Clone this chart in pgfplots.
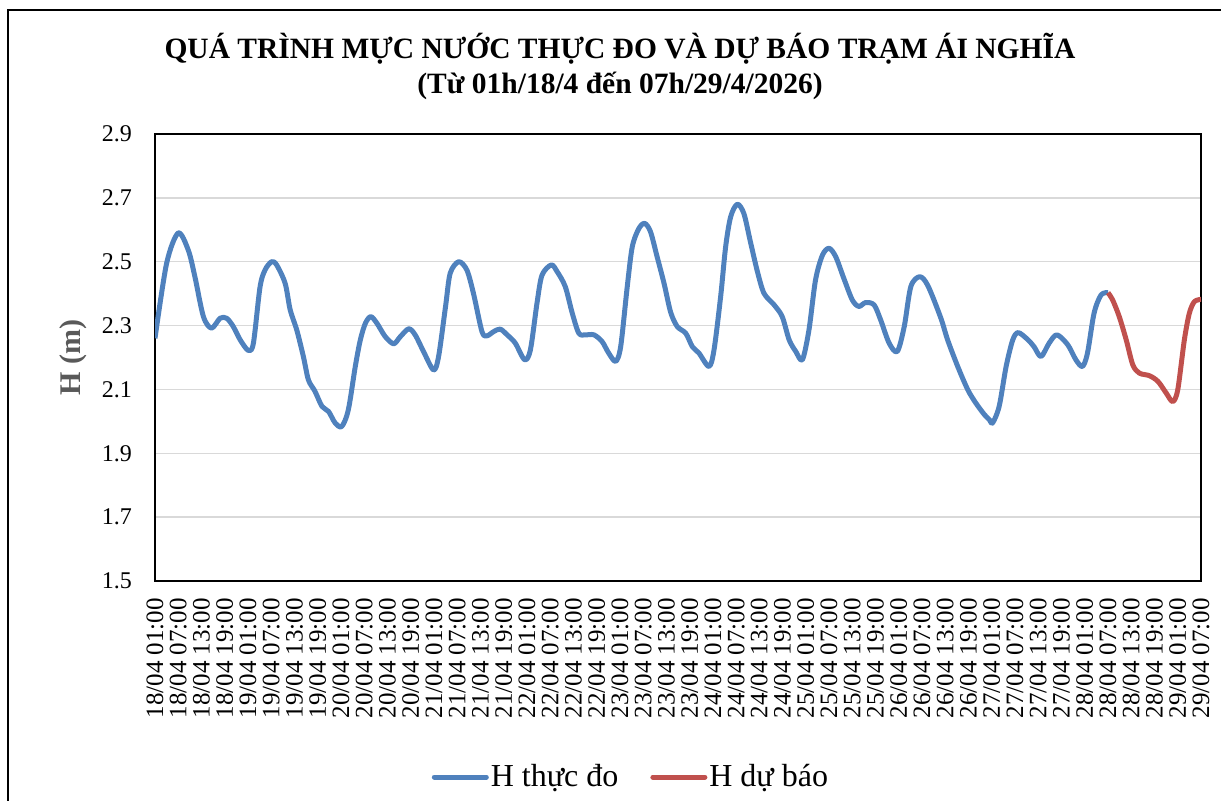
\documentclass[border=0pt]{standalone}
\usepackage{fontspec}
\setmainfont{Liberation Serif}
\usepackage{pgfplots}
\usepackage{pgfplotstable}
\pgfplotsset{compat=1.18}
\definecolor{hblue}{HTML}{4F81BD}
\definecolor{hred}{HTML}{C0504D}
\definecolor{gridc}{HTML}{D9D9D9}
\definecolor{labc}{HTML}{595959}

\pgfplotstableread{
h v
0 2.26
3 2.495
6 2.59
8.6 2.536
10.3 2.453
12.5 2.328
14.6 2.292
16.8 2.323
18.5 2.323
20.2 2.297
22 2.255
24.1 2.222
25.4 2.245
27.1 2.42
28.4 2.474
30.1 2.50
31.4 2.49
33.6 2.432
34.9 2.349
36.6 2.286
38.3 2.203
39.6 2.13
41.3 2.094
43.1 2.047
44.8 2.031
46.5 1.995
48.2 1.984
49.9 2.036
51.7 2.172
53 2.255
54.3 2.307
55.7 2.328
57.3 2.307
59.4 2.266
61.6 2.243
63.3 2.265
65.5 2.29
67.2 2.27
69.3 2.219
71.9 2.161
73.2 2.203
75 2.36
76.2 2.464
78.4 2.50
80.5 2.474
82.2 2.401
84.4 2.281
85.7 2.268
87.4 2.281
89.1 2.289
90.9 2.271
93 2.245
95.4 2.193
96.9 2.224
98.6 2.37
99.9 2.458
102.3 2.49
103.8 2.469
105.9 2.422
107.7 2.339
109.4 2.276
111.1 2.271
113.3 2.271
115.4 2.25
117.1 2.214
118.9 2.188
120.2 2.234
121.9 2.422
123.2 2.547
124.9 2.604
126.4 2.62
127.9 2.594
129.6 2.516
131.4 2.432
133.1 2.342
134.8 2.297
137 2.276
138.7 2.234
140.4 2.214
143 2.172
144.3 2.224
146 2.39
147.3 2.547
148.6 2.641
150.3 2.68
152 2.651
153.7 2.562
155.5 2.469
157.2 2.401
159.8 2.365
161.9 2.328
163.7 2.255
165.4 2.219
167.1 2.193
168.8 2.286
170.5 2.443
172.3 2.521
174 2.542
175.7 2.516
177.8 2.448
180 2.38
181.7 2.36
183.4 2.372
185.6 2.365
187.3 2.318
189.5 2.245
191.6 2.219
193.4 2.297
195.1 2.422
197.4 2.453
199.5 2.425
202.8 2.325
204.6 2.255
207.2 2.172
209.8 2.099
211.9 2.057
214.1 2.021
215.4 2.005
216.2 1.995
217.9 2.047
219.7 2.172
221.4 2.255
222.8 2.278
225.2 2.257
226.9 2.234
228.7 2.203
230.8 2.245
232.8 2.271
235.6 2.24
237.7 2.193
239.4 2.172
240.7 2.214
242.4 2.339
244.2 2.396
246 2.403
}\obs

\pgfplotstableread{
h v
246 2.403
247.2 2.38
248.9 2.328
250.7 2.255
252.4 2.177
254.1 2.151
256.7 2.143
258.9 2.125
261 2.089
262.7 2.062
264 2.099
265.7 2.255
267 2.339
268.3 2.375
270 2.382
}\fc

\begin{document}
\begin{tikzpicture}
\useasboundingbox (0pt,0pt) rectangle (610.5pt,400pt);
\draw[line width=0.7pt] (4pt,-2pt) -- (4pt,395pt) -- (612pt,395pt);
\node[font=\fontsize{14.75}{17.5}\selectfont\bfseries, align=center] at (310pt,367pt)
  {QUÁ TRÌNH MỰC NƯỚC THỰC ĐO VÀ DỰ BÁO TRẠM ÁI NGHĨA\\(Từ 01h/18/4 đến 07h/29/4/2026)};
\begin{axis}[
  at={(77.5pt,109.5pt)}, anchor=south west,
  scale only axis, width=523pt, height=223.5pt,
  xmin=0, xmax=270, ymin=1.5, ymax=2.9,
  xtick={0,6,...,270},
  xticklabels={18/04 01:00,18/04 07:00,18/04 13:00,18/04 19:00,
    19/04 01:00,19/04 07:00,19/04 13:00,19/04 19:00,
    20/04 01:00,20/04 07:00,20/04 13:00,20/04 19:00,
    21/04 01:00,21/04 07:00,21/04 13:00,21/04 19:00,
    22/04 01:00,22/04 07:00,22/04 13:00,22/04 19:00,
    23/04 01:00,23/04 07:00,23/04 13:00,23/04 19:00,
    24/04 01:00,24/04 07:00,24/04 13:00,24/04 19:00,
    25/04 01:00,25/04 07:00,25/04 13:00,25/04 19:00,
    26/04 01:00,26/04 07:00,26/04 13:00,26/04 19:00,
    27/04 01:00,27/04 07:00,27/04 13:00,27/04 19:00,
    28/04 01:00,28/04 07:00,28/04 13:00,28/04 19:00,
    29/04 01:00,29/04 07:00},
  ytick={1.5,1.7,1.9,2.1,2.3,2.5,2.7,2.9},
  ymajorgrids, grid style={gridc, line width=0.75pt},
  major tick length=0pt,
  axis line style={black, line width=0.75pt},
  /pgf/number format/assume math mode=true,
  yticklabel={\pgfmathprintnumber[fixed,fixed zerofill,precision=1]{\tick}},
  yticklabel style={font=\fontsize{12}{14}\selectfont, xshift=-8pt},
  xticklabel style={font=\fontsize{12.5}{14}\selectfont, rotate=90, anchor=east, xshift=-5pt},
  ylabel={H (m)},
  every axis y label/.style={at={(axis description cs:-0.0784,0.5)}, rotate=90, anchor=center,
    font=\fontsize{15}{18}\selectfont\bfseries, text=labc},
  legend style={at={(axis description cs:0.455,-0.4385)}, anchor=center, draw=none, fill=none,
    font=\fontsize{16}{19}\selectfont, nodes={inner xsep=1pt, inner ysep=0pt},
    /tikz/every even column/.append style={column sep=15pt}},
  legend columns=2,
  legend image code/.code={\draw[#1, line cap=round] (0pt,0pt) -- (26pt,0pt);},
]
\addplot[hblue, line width=2.5pt, smooth, line join=round] table[x=h,y=v] {\obs};
\addlegendentry{H thực đo}
\addplot[hred, line width=2.5pt, smooth, line join=round] table[x=h,y=v] {\fc};
\addlegendentry{H dự báo}
\end{axis}
\end{tikzpicture}
\end{document}
